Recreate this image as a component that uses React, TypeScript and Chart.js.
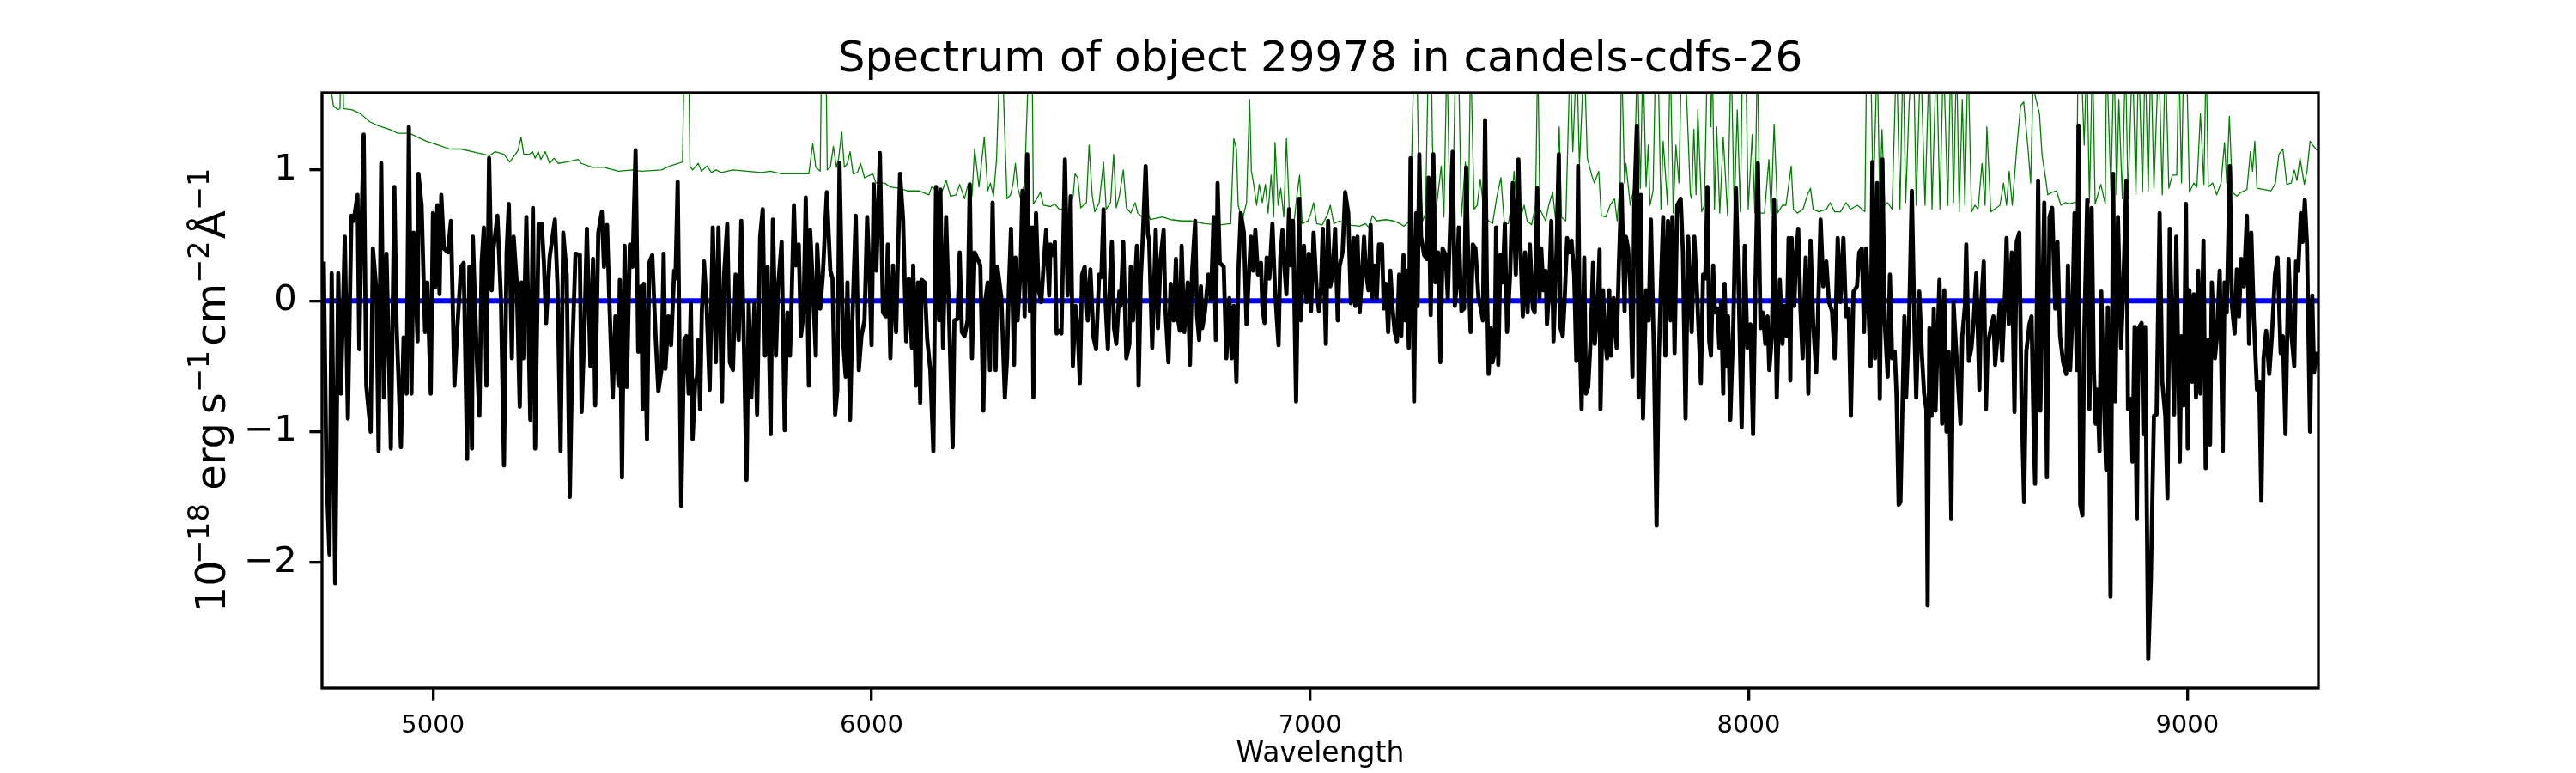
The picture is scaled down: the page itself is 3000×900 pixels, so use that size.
import React, { useEffect, useRef } from "react";
import { Chart, registerables } from "chart.js";

Chart.register(...registerables);

const TITLE = "Spectrum of object 29978 in candels-cdfs-26";
const X_LABEL = "Wavelength";
const X_RANGE = [4747, 9299];
const Y_RANGE = [-2.96, 1.59];
const X_TICKS = [5000, 6000, 7000, 8000, 9000];
const Y_TICKS = [-2, -1, 0, 1];

// y-axis label pieces: [text, isSuperscript, gapBefore (em of main font)]
const Y_LABEL_PARTS: [string, boolean, number][] = [
  ["10", false, 0],
  ["\u221218", true, -0.1],
  ["erg", false, 0.32],
  ["s", false, 0.2],
  ["\u22121", true, 0],
  ["cm", false, 0.1],
  ["\u22122", true, 0],
  ["\u00c5", false, 0.05],
  ["\u22121", true, 0],
];

// Object flux [wavelength, flux]
const FLUX: [number, number][] = [
  [4751, 0.30], [4757, -1.32], [4764, -1.94], [4769, 0.21], [4777, -2.16], [4784, 0.21], [4790, -0.71], [4799, 0.49],
  [4806, -0.90], [4814, 0.65], [4819, 0.61], [4828, 0.81], [4832, -0.37], [4837, 0.55], [4842, 1.27], [4848, -0.65],
  [4858, -1.00], [4863, 0.40], [4871, 0.08], [4876, -1.15], [4882, 1.05], [4888, -0.74], [4894, 0.36], [4904, -1.13],
  [4912, 0.87], [4917, -0.18], [4927, -1.12], [4933, -0.28], [4940, -0.71], [4945, 1.33], [4951, -0.71], [4956, 0.52],
  [4965, -0.31], [4967, 0.97], [4974, 0.73], [4982, -0.24], [4987, 0.14], [4995, -0.71], [5000, 0.67], [5005, 0.10],
  [5010, 0.73], [5015, 0.05], [5019, 0.81], [5025, 0.40], [5034, 0.37], [5041, 0.61], [5049, -0.65], [5055, -0.24],
  [5064, 0.26], [5070, 0.29], [5078, -1.21], [5083, 0.26], [5089, -1.13], [5091, 0.49], [5100, -0.44], [5106, -0.88],
  [5111, 0.29], [5116, 0.56], [5122, -0.65], [5128, 1.09], [5134, 0.08], [5137, 0.37], [5147, 0.65], [5155, 0.02],
  [5162, -1.26], [5168, 0.37], [5173, 0.74], [5180, -0.44], [5184, 0.49], [5191, 0.14], [5198, -0.81], [5202, 0.14],
  [5206, -0.44], [5213, 0.64], [5222, -0.91], [5228, 0.71], [5233, -1.13], [5241, 0.59], [5248, 0.59], [5253, 0.29],
  [5258, -0.17], [5266, 0.33], [5278, 0.62], [5284, 0.11], [5291, -1.15], [5297, 0.52], [5305, 0.20], [5312, -1.50],
  [5318, -0.37], [5325, 0.36], [5335, 0.35], [5339, -0.85], [5346, -0.15], [5351, 0.55], [5359, -0.50], [5365, 0.32],
  [5370, -0.80], [5377, 0.52], [5385, 0.68], [5390, 0.26], [5397, 0.58], [5403, -0.09], [5410, -0.74], [5416, -0.12],
  [5423, -0.65], [5426, 0.16], [5431, -1.35], [5437, 0.42], [5442, -0.66], [5449, 0.43], [5455, 0.26], [5462, 1.15],
  [5468, -0.39], [5475, 0.11], [5478, -0.83], [5481, 0.13], [5488, -1.06], [5493, 0.29], [5500, 0.35], [5508, -0.30],
  [5514, -0.69], [5521, -0.53], [5526, 0.36], [5530, -0.52], [5537, -0.12], [5543, -0.34], [5550, 0.23], [5553, 0.17],
  [5558, 0.91], [5566, -1.57], [5573, -0.30], [5578, -0.27], [5583, -0.71], [5588, -0.02], [5592, -1.06], [5598, -0.62],
  [5602, -0.58], [5605, -0.30], [5609, -0.83], [5613, -0.09], [5618, 0.30], [5624, -0.04], [5631, -0.68], [5638, 0.56],
  [5645, -0.47], [5651, 0.56], [5659, -0.77], [5664, 0.21], [5671, 0.59], [5677, -0.47], [5684, -0.53], [5690, 0.20],
  [5697, -0.30], [5703, 0.61], [5710, -0.49], [5715, -1.37], [5720, -0.01], [5726, -0.74], [5733, -0.02], [5739, -0.87],
  [5746, 0.49], [5752, 0.70], [5757, -0.42], [5763, 0.26], [5770, -1.02], [5775, 0.62], [5782, -0.42], [5787, 0.11],
  [5795, 0.45], [5802, -0.99], [5808, -0.09], [5814, -0.42], [5817, -0.09], [5823, 0.73], [5827, 0.27], [5834, 0.43],
  [5839, -0.27], [5845, -0.09], [5850, 0.79], [5857, -0.65], [5860, 0.54], [5865, 0.20], [5873, -0.42], [5876, 0.43],
  [5883, -0.06], [5889, 0.20], [5898, 0.83], [5906, 0.23], [5911, 0.17], [5917, -0.87], [5922, -0.68], [5927, 1.05],
  [5935, -0.30], [5941, -0.58], [5945, 0.14], [5951, -0.91], [5956, -0.18], [5964, 0.65], [5971, -0.53], [5977, -0.27],
  [5984, -0.15], [5990, 0.64], [5996, 0.14], [6000, -0.34], [6005, 0.89], [6011, 0.23], [6019, 1.13], [6026, -0.09],
  [6033, -0.12], [6037, 0.43], [6043, -0.44], [6049, 0.27], [6056, -0.24], [6065, 0.97], [6072, 0.62], [6079, -0.31],
  [6085, 0.17], [6092, -0.36], [6095, 0.27], [6101, -0.65], [6106, 0.14], [6111, -0.78], [6114, 0.16], [6121, 0.14],
  [6127, -0.30], [6134, -0.53], [6141, -1.15], [6147, 0.87], [6154, -0.15], [6157, 0.85], [6163, -0.36], [6170, 0.64],
  [6176, -0.02], [6185, -1.12], [6189, -0.15], [6196, -0.14], [6201, 0.37], [6206, -0.24], [6212, -0.27], [6219, -0.15],
  [6224, 0.89], [6229, -0.44], [6235, 0.37], [6242, 0.32], [6248, 0.27], [6255, -0.84], [6259, -0.01], [6265, 0.14],
  [6270, -0.53], [6276, 0.75], [6283, -0.53], [6287, 0.26], [6296, 0.02], [6304, -0.74], [6309, -0.44], [6313, 0.08],
  [6318, 0.55], [6325, -0.49], [6328, 0.33], [6333, -0.15], [6340, 0.26], [6344, 0.84], [6349, -0.12], [6355, 1.12],
  [6361, -0.08], [6366, 0.56], [6369, -0.74], [6375, 0.67], [6381, 0.08], [6387, -0.01], [6392, 0.26], [6398, 0.54],
  [6405, 0.04], [6408, 0.43], [6413, 0.35], [6418, 0.45], [6422, -0.25], [6428, -0.23], [6433, -0.25], [6441, 1.08],
  [6447, 0.04], [6454, 0.80], [6459, -0.50], [6465, -0.04], [6470, -0.21], [6475, -0.63], [6480, 0.20], [6486, 0.26],
  [6493, -0.15], [6499, 0.24], [6506, -0.28], [6512, -0.37], [6519, 0.20], [6524, 0.18], [6529, 0.70], [6532, 0.08],
  [6539, -0.37], [6544, 0.20], [6548, 0.45], [6553, -0.21], [6558, -0.33], [6565, 0.07], [6568, -0.04], [6574, 0.45],
  [6581, -0.44], [6588, -0.33], [6591, 0.26], [6596, -0.15], [6601, 0.16], [6605, 0.42], [6609, -0.65], [6614, 0.17],
  [6618, 0.45], [6625, 1.03], [6630, 0.51], [6633, 0.46], [6640, -0.36], [6648, 0.54], [6653, -0.21], [6659, 0.32],
  [6666, 0.54], [6670, -0.06], [6677, -0.47], [6682, 0.13], [6689, -0.15], [6694, 0.32], [6698, -0.12], [6703, -0.23],
  [6707, 0.42], [6713, -0.24], [6721, 0.14], [6726, -0.49], [6731, 0.23], [6738, 0.61], [6742, -0.11], [6747, -0.30],
  [6751, 0.11], [6754, -0.21], [6760, -0.09], [6768, 0.20], [6774, 0.01], [6780, 0.64], [6785, -0.30], [6789, 0.90],
  [6794, 0.29], [6803, 0.26], [6809, -0.44], [6816, 0.02], [6821, -0.44], [6826, -0.04], [6832, -0.62], [6837, 0.27],
  [6842, 0.67], [6849, 0.52], [6855, -0.18], [6860, 0.17], [6865, 0.49], [6870, 0.23], [6875, 0.54], [6881, 0.20],
  [6888, 0.29], [6891, -0.04], [6896, -0.17], [6901, 0.33], [6907, 0.17], [6914, 0.59], [6920, 0.08], [6928, -0.34],
  [6932, 0.33], [6937, 0.54], [6942, 0.23], [6946, 0.05], [6952, 0.70], [6956, 0.27], [6961, 0.61], [6968, -0.77],
  [6975, 0.78], [6979, -0.15], [6986, 0.42], [6992, -0.01], [6997, 0.36], [7002, -0.08], [7008, 0.52], [7015, 0.08],
  [7020, -0.08], [7025, 0.11], [7029, 0.55], [7036, -0.33], [7041, 0.61], [7046, 0.11], [7051, 0.20], [7057, 0.55],
  [7063, -0.15], [7067, 0.26], [7074, 0.37], [7080, 0.83], [7087, 0.67], [7093, -0.02], [7099, 0.48], [7103, -0.04],
  [7108, 0.49], [7113, -0.09], [7118, 0.17], [7123, 0.49], [7127, 0.23], [7133, 0.08], [7138, 0.58], [7142, 0.02],
  [7147, 0.27], [7152, 0.02], [7157, 0.43], [7164, 0.43], [7168, -0.06], [7173, 0.13], [7178, -0.24], [7183, 0.23],
  [7188, -0.06], [7193, -0.24], [7198, -0.31], [7203, 0.20], [7208, -0.27], [7213, 0.35], [7217, -0.15], [7221, 0.23],
  [7225, -0.36], [7229, 1.09], [7234, 0.02], [7237, -0.77], [7242, 0.67], [7245, -0.04], [7249, 1.12], [7253, 0.49],
  [7260, 0.35], [7266, 0.32], [7270, 0.94], [7275, -0.11], [7281, 1.12], [7286, 0.14], [7292, 0.37], [7297, -0.47],
  [7302, 0.40], [7309, 0.35], [7314, 0.02], [7318, 0.43], [7325, 1.14], [7330, -0.04], [7335, 0.14], [7339, 0.56],
  [7345, -0.08], [7351, -0.06], [7356, 1.02], [7361, 0.23], [7366, -0.24], [7371, 0.43], [7377, 0.40], [7384, 0.02],
  [7388, -0.04], [7394, -0.15], [7399, 1.38], [7403, 0.14], [7407, -0.56], [7412, -0.21], [7416, -0.47], [7421, -0.39],
  [7424, 0.56], [7429, -0.49], [7434, 0.35], [7439, 0.14], [7444, 0.59], [7449, -0.24], [7456, 0.20], [7462, 0.90],
  [7469, 0.20], [7475, 1.08], [7480, 0.35], [7485, -0.12], [7490, 0.37], [7496, -0.09], [7501, 0.43], [7508, -0.06],
  [7512, -0.09], [7518, 0.86], [7523, 0.02], [7527, 0.40], [7532, 0.08], [7537, 0.23], [7540, -0.18], [7545, 0.08],
  [7550, 0.61], [7555, -0.31], [7562, 0.40], [7567, 1.12], [7571, -0.21], [7576, -0.27], [7580, -0.02], [7586, 0.48],
  [7591, 0.37], [7596, 0.46], [7602, 0.20], [7607, -0.46], [7611, 1.03], [7615, -0.30], [7619, -0.83], [7625, 0.33],
  [7629, -0.71], [7634, -0.66], [7640, -0.27], [7645, 0.29], [7649, -0.33], [7655, -0.08], [7660, 0.39], [7662, -0.83],
  [7668, 0.08], [7672, -0.27], [7677, -0.44], [7682, 0.08], [7686, -0.42], [7692, 0.02], [7699, -0.36], [7704, 0.27],
  [7710, 0.89], [7717, -0.08], [7720, 0.49], [7725, 0.40], [7730, 0.11], [7735, -0.58], [7739, 0.73], [7745, 1.34],
  [7749, -0.74], [7754, 0.81], [7759, -0.90], [7766, 0.08], [7772, -0.15], [7777, 0.62], [7784, -0.42], [7790, -1.72],
  [7795, -0.44], [7800, 0.13], [7805, 0.64], [7810, -0.42], [7816, 0.61], [7822, -0.15], [7826, 0.64], [7831, -0.40],
  [7837, 0.73], [7845, 0.78], [7850, 0.37], [7856, -0.90], [7862, 0.49], [7870, -0.24], [7876, 0.49], [7882, 0.08],
  [7886, -0.24], [7891, -0.63], [7896, 0.20], [7901, 0.17], [7906, 0.87], [7910, -0.31], [7914, -0.42], [7919, 0.27],
  [7923, -0.09], [7929, -0.06], [7933, -0.36], [7937, -0.01], [7942, -0.71], [7945, 0.13], [7950, -0.50], [7953, -0.12],
  [7958, -0.91], [7965, -0.18], [7971, 0.86], [7978, -0.04], [7984, -0.97], [7991, 0.42], [7997, -0.36], [8004, -0.18],
  [8010, -1.02], [8015, 0.08], [8021, 1.05], [8027, -0.21], [8032, -0.09], [8038, -0.33], [8043, -0.12], [8047, -0.53],
  [8053, -0.27], [8058, 0.77], [8064, -0.74], [8071, 0.16], [8077, -0.33], [8082, -0.04], [8087, -0.27], [8091, 0.48],
  [8095, -0.61], [8098, 0.48], [8104, -0.04], [8108, 0.35], [8113, 0.55], [8118, -0.06], [8123, -0.44], [8130, 0.33],
  [8136, -0.71], [8141, 0.46], [8147, -0.17], [8154, -0.55], [8158, -0.11], [8164, 0.62], [8170, 0.11], [8177, 0.30],
  [8183, -0.01], [8190, -0.08], [8196, -0.44], [8203, 0.48], [8209, -0.01], [8216, 0.48], [8222, -0.12], [8228, -0.06],
  [8233, -0.88], [8239, 0.07], [8247, 0.11], [8252, 0.37], [8258, 0.40], [8263, -0.24], [8268, 0.40], [8273, -0.04],
  [8278, -0.50], [8282, 1.06], [8288, -0.44], [8293, 0.90], [8299, -0.75], [8305, 1.08], [8310, -0.15], [8317, -0.58],
  [8322, 0.20], [8327, -0.44], [8333, -0.39], [8337, -0.71], [8342, -1.56], [8346, -1.54], [8352, -0.59], [8355, -0.12],
  [8359, -0.74], [8366, -0.12], [8372, 0.84], [8378, -0.21], [8382, -0.74], [8389, 0.07], [8395, -0.42], [8400, -0.71],
  [8405, -0.83], [8408, -2.33], [8412, -0.21], [8417, -0.88], [8422, -0.06], [8426, -0.84], [8431, -0.27], [8435, 0.16],
  [8441, -0.94], [8446, 0.08], [8451, -1.00], [8456, -0.39], [8462, -1.67], [8467, -0.01], [8474, -0.44], [8483, -0.94],
  [8487, -0.27], [8493, -0.04], [8496, 0.43], [8502, -0.46], [8508, -0.36], [8513, -0.15], [8519, 0.21], [8526, -0.68],
  [8530, -0.04], [8536, 0.30], [8541, -0.83], [8545, -0.34], [8552, -0.21], [8558, -0.12], [8562, -0.49], [8568, -0.24],
  [8573, -0.01], [8578, -0.46], [8585, 0.11], [8588, 0.48], [8593, -0.18], [8600, 0.37], [8606, -0.85], [8611, 0.45],
  [8617, 0.52], [8622, -0.74], [8628, -1.54], [8633, -0.39], [8640, -0.18], [8645, -0.12], [8650, -1.03], [8653, -1.40],
  [8660, 0.92], [8665, -0.84], [8669, -0.12], [8674, 0.75], [8680, -1.35], [8686, 0.64], [8692, 0.71], [8699, -0.06],
  [8704, 0.45], [8710, -0.27], [8717, -0.47], [8724, -0.56], [8728, 0.27], [8733, -0.53], [8738, -0.12], [8743, 0.67],
  [8748, -0.53], [8752, 1.34], [8756, -1.56], [8761, -1.64], [8765, -0.27], [8772, 0.77], [8777, -0.83], [8782, 0.71],
  [8787, -0.53], [8791, -0.94], [8795, -0.68], [8800, -1.15], [8804, 0.07], [8810, -0.74], [8815, -1.29], [8819, -0.05],
  [8825, -2.26], [8831, 0.97], [8836, -0.77], [8842, 0.64], [8849, -0.36], [8854, 0.08], [8861, 0.92], [8865, -0.83],
  [8872, -0.75], [8875, -1.23], [8880, -0.20], [8885, -1.67], [8889, -0.21], [8896, -0.17], [8900, -1.02], [8904, -0.20],
  [8911, -2.74], [8917, -2.13], [8924, -0.88], [8930, -0.87], [8937, 0.67], [8943, -0.62], [8950, -0.88], [8955, -1.51],
  [8960, 0.55], [8965, -0.15], [8970, -0.87], [8975, 0.49], [8983, -1.23], [8987, -0.27], [8992, -0.80], [8997, 0.74],
  [9001, -1.13], [9005, 0.08], [9011, -0.62], [9015, 0.05], [9020, -0.74], [9025, 0.23], [9030, -0.71], [9037, 0.46],
  [9042, -1.28], [9048, -0.30], [9052, -1.10], [9056, 0.14], [9063, -0.44], [9067, -0.30], [9074, 0.23], [9081, -1.15],
  [9085, 0.14], [9090, -0.09], [9097, 1.03], [9102, -0.04], [9108, -0.25], [9113, 0.24], [9118, -0.12], [9123, 0.32],
  [9129, 0.11], [9136, 0.65], [9141, -0.33], [9146, 0.52], [9152, -0.15], [9159, -0.68], [9164, -0.62], [9169, -1.53],
  [9174, -0.44], [9180, -0.23], [9187, -0.56], [9193, -0.27], [9200, 0.20], [9206, 0.33], [9213, -0.40], [9218, -0.27],
  [9224, -1.02], [9231, 0.32], [9237, -0.24], [9244, -0.50], [9248, 0.30], [9253, 0.23], [9259, 0.67], [9263, 0.45],
  [9268, 0.77], [9273, 0.43], [9280, -1.00], [9285, 0.04], [9289, -0.55], [9296, -0.39],
];

// Noise / error spectrum [wavelength, value]
const NOISE: [number, number][] = [
  [4750, 2.20], [4764, 1.70], [4773, 1.49], [4783, 1.46], [4788, 1.47], [4790, 1.90], [4794, 1.90], [4796, 1.47],
  [4816, 1.46], [4835, 1.43], [4855, 1.37], [4874, 1.34], [4901, 1.31], [4920, 1.28], [4946, 1.28], [4966, 1.25],
  [4985, 1.22], [5012, 1.19], [5038, 1.16], [5064, 1.16], [5090, 1.14], [5116, 1.12], [5129, 1.11], [5142, 1.14],
  [5162, 1.12], [5175, 1.06], [5188, 1.12], [5194, 1.15], [5201, 1.25], [5207, 1.12], [5220, 1.12], [5227, 1.14],
  [5233, 1.09], [5240, 1.14], [5246, 1.08], [5256, 1.14], [5266, 1.05], [5276, 1.09], [5286, 1.05], [5305, 1.06],
  [5331, 1.08], [5338, 1.05], [5364, 1.02], [5390, 1.02], [5423, 0.99], [5455, 1.00], [5475, 0.99], [5521, 1.00],
  [5540, 1.03], [5560, 1.05], [5569, 1.06], [5573, 1.90], [5583, 1.90], [5586, 1.03], [5592, 1.00], [5605, 1.05],
  [5612, 0.99], [5625, 1.03], [5635, 0.98], [5645, 1.00], [5658, 0.98], [5684, 1.00], [5716, 0.99], [5749, 0.98],
  [5769, 0.99], [5795, 0.97], [5834, 0.97], [5857, 0.97], [5866, 1.20], [5873, 1.02], [5883, 0.99], [5886, 1.90],
  [5896, 1.90], [5899, 1.00], [5906, 1.02], [5913, 1.18], [5920, 1.02], [5925, 1.09], [5932, 1.29], [5938, 1.02],
  [5945, 1.05], [5951, 1.14], [5958, 0.97], [5968, 0.98], [5975, 1.05], [5984, 0.94], [6003, 0.97], [6010, 0.90],
  [6030, 0.90], [6043, 0.87], [6062, 0.86], [6082, 0.84], [6108, 0.84], [6131, 0.81], [6137, 0.87], [6147, 0.85],
  [6157, 0.80], [6170, 0.92], [6180, 0.80], [6193, 0.81], [6201, 0.89], [6212, 0.78], [6220, 0.89], [6229, 0.80],
  [6235, 1.16], [6245, 0.87], [6257, 1.25], [6265, 0.84], [6271, 0.90], [6278, 0.80], [6285, 1.08], [6293, 1.90],
  [6298, 1.90], [6304, 1.25], [6309, 0.78], [6317, 0.81], [6323, 0.90], [6328, 1.05], [6333, 0.87], [6340, 0.78],
  [6349, 0.90], [6359, 1.90], [6366, 1.90], [6369, 0.74], [6375, 0.77], [6385, 0.83], [6392, 0.73], [6408, 0.72],
  [6418, 0.74], [6428, 0.70], [6454, 0.70], [6460, 0.81], [6464, 0.97], [6470, 0.94], [6477, 0.71], [6490, 0.75],
  [6496, 1.19], [6503, 0.81], [6509, 0.68], [6519, 0.75], [6529, 1.06], [6535, 0.70], [6545, 0.75], [6552, 1.12],
  [6558, 0.71], [6565, 0.80], [6574, 1.00], [6581, 0.71], [6591, 0.67], [6601, 0.75], [6607, 0.67], [6617, 0.64],
  [6630, 0.67], [6636, 0.62], [6663, 0.64], [6682, 0.62], [6708, 0.61], [6728, 0.61], [6760, 0.59], [6793, 0.58],
  [6819, 0.59], [6826, 1.24], [6832, 1.16], [6836, 0.73], [6845, 0.61], [6855, 0.75], [6862, 1.54], [6866, 0.99],
  [6871, 0.90], [6878, 0.73], [6884, 0.89], [6891, 0.75], [6898, 0.89], [6904, 0.67], [6911, 0.96], [6917, 0.64],
  [6920, 1.21], [6927, 0.73], [6933, 0.86], [6940, 0.64], [6946, 1.24], [6953, 0.65], [6963, 0.59], [6969, 0.78],
  [6976, 0.96], [6982, 0.59], [6995, 0.61], [7002, 0.67], [7008, 0.75], [7015, 0.59], [7028, 0.58], [7041, 0.67],
  [7046, 0.73], [7054, 0.59], [7067, 0.61], [7080, 0.59], [7087, 0.58], [7113, 0.57], [7126, 0.59], [7134, 0.56],
  [7142, 0.65], [7152, 0.61], [7172, 0.62], [7191, 0.61], [7204, 0.59], [7214, 0.57], [7227, 0.61], [7232, 1.14],
  [7237, 1.90], [7243, 1.90], [7247, 1.14], [7257, 0.61], [7263, 0.67], [7270, 1.90], [7276, 1.90], [7279, 1.19],
  [7286, 0.67], [7292, 0.83], [7299, 1.03], [7305, 0.64], [7312, 1.90], [7319, 0.62], [7325, 0.67], [7332, 1.90],
  [7338, 1.90], [7345, 0.64], [7354, 1.06], [7361, 0.64], [7366, 1.90], [7374, 0.70], [7381, 0.73], [7388, 0.93],
  [7397, 0.67], [7407, 0.61], [7416, 0.59], [7426, 0.80], [7435, 0.94], [7443, 0.59], [7452, 0.59], [7459, 0.73],
  [7465, 0.99], [7475, 0.58], [7488, 0.73], [7495, 0.61], [7505, 0.58], [7514, 0.73], [7519, 1.90], [7524, 0.70],
  [7537, 0.61], [7544, 0.73], [7553, 0.83], [7560, 0.61], [7568, 1.33], [7573, 0.64], [7583, 0.61], [7593, 1.90],
  [7599, 1.14], [7608, 1.90], [7614, 1.03], [7625, 1.90], [7632, 1.09], [7642, 0.96], [7648, 0.90], [7658, 0.99],
  [7664, 0.65], [7674, 0.64], [7684, 0.73], [7694, 0.78], [7700, 0.61], [7707, 0.90], [7710, 1.90], [7717, 0.90],
  [7720, 1.05], [7730, 0.73], [7739, 0.87], [7746, 1.90], [7753, 0.86], [7759, 1.90], [7766, 0.87], [7771, 1.19],
  [7775, 0.73], [7782, 0.84], [7788, 1.90], [7793, 1.90], [7800, 0.70], [7805, 1.22], [7815, 0.73], [7821, 1.90],
  [7828, 0.67], [7834, 1.19], [7841, 0.90], [7847, 1.90], [7854, 1.90], [7860, 1.43], [7867, 0.81], [7870, 0.78],
  [7875, 1.31], [7880, 0.81], [7884, 1.46], [7893, 0.68], [7899, 0.73], [7906, 1.90], [7910, 1.90], [7914, 1.33],
  [7917, 1.90], [7922, 0.70], [7927, 1.33], [7934, 0.67], [7942, 1.25], [7952, 0.65], [7960, 1.90], [7967, 0.68],
  [7974, 1.46], [7981, 0.68], [7986, 1.90], [7993, 1.90], [7999, 0.70], [8008, 1.27], [8014, 0.67], [8020, 1.90],
  [8025, 0.67], [8036, 0.67], [8046, 1.08], [8051, 0.67], [8058, 1.35], [8066, 0.67], [8077, 0.73], [8085, 0.73],
  [8097, 1.03], [8102, 0.70], [8111, 0.67], [8124, 0.70], [8134, 0.81], [8141, 0.86], [8147, 0.70], [8160, 0.68],
  [8177, 0.70], [8186, 0.75], [8196, 0.68], [8209, 0.68], [8222, 0.75], [8232, 0.70], [8248, 0.73], [8265, 0.68],
  [8269, 1.90], [8278, 1.90], [8284, 0.73], [8293, 1.90], [8299, 0.73], [8304, 1.31], [8310, 0.73], [8317, 0.75],
  [8327, 0.70], [8337, 1.90], [8345, 0.70], [8352, 1.90], [8358, 0.75], [8366, 1.52], [8376, 1.90], [8382, 0.73],
  [8392, 1.90], [8402, 0.73], [8412, 1.90], [8418, 0.70], [8428, 1.90], [8436, 0.70], [8444, 1.90], [8454, 0.73],
  [8461, 1.90], [8467, 0.75], [8474, 1.90], [8480, 0.68], [8487, 1.54], [8493, 0.73], [8500, 1.90], [8508, 0.68],
  [8516, 0.73], [8523, 0.70], [8532, 1.05], [8539, 0.73], [8543, 1.33], [8552, 0.68], [8565, 0.71], [8573, 0.73],
  [8581, 0.90], [8588, 0.73], [8594, 0.99], [8601, 0.73], [8611, 1.16], [8620, 1.49], [8627, 1.52], [8637, 1.16],
  [8643, 0.90], [8650, 1.90], [8653, 1.57], [8663, 1.43], [8669, 1.11], [8676, 0.96], [8682, 0.81], [8692, 0.83],
  [8702, 0.84], [8712, 0.73], [8722, 0.75], [8731, 0.74], [8741, 0.75], [8748, 0.75], [8751, 1.90], [8761, 1.57],
  [8765, 1.19], [8771, 1.90], [8777, 0.75], [8784, 1.90], [8790, 0.74], [8803, 0.89], [8813, 0.74], [8816, 1.90],
  [8826, 0.84], [8833, 1.90], [8839, 0.81], [8844, 1.54], [8852, 0.78], [8859, 1.90], [8865, 0.78], [8875, 1.90],
  [8883, 0.81], [8889, 1.90], [8898, 0.83], [8904, 1.90], [8911, 0.84], [8917, 1.90], [8924, 0.86], [8935, 1.90],
  [8943, 0.81], [8950, 1.90], [8958, 0.86], [8966, 0.96], [8976, 0.96], [8981, 1.90], [8987, 0.90], [8992, 1.90],
  [8998, 1.90], [9005, 0.83], [9015, 0.90], [9022, 0.87], [9030, 1.43], [9038, 0.89], [9043, 1.90], [9048, 0.87],
  [9058, 0.90], [9067, 0.81], [9077, 0.90], [9085, 1.21], [9090, 0.90], [9096, 1.41], [9103, 0.83], [9113, 0.80],
  [9123, 0.83], [9136, 0.85], [9144, 1.14], [9149, 0.99], [9154, 1.22], [9159, 0.86], [9175, 0.85], [9191, 0.84],
  [9201, 0.90], [9209, 1.12], [9218, 1.16], [9227, 0.89], [9237, 0.90], [9244, 1.00], [9250, 0.92], [9257, 1.09],
  [9267, 0.89], [9273, 0.99], [9280, 1.22], [9286, 1.19], [9296, 1.15],
];

// Zero level [wavelength, value]
const ZERO_LEVEL: [number, number][] = [
  [4747, 0], [9299, 0],
];

const FONT = "'DejaVu Sans', 'Liberation Sans', sans-serif";

const toPoints = (arr: [number, number][]) => arr.map(([x, y]) => ({ x, y }));

export default function App() {
  const ref = useRef<HTMLCanvasElement>(null);

  useEffect(() => {
    document.body.style.margin = "0";
    const canvas = ref.current;
    if (!canvas) return;

    const decorPlugin = {
      id: "mplDecor",
      afterDatasetsDraw(chart: any) {
        const { ctx, chartArea: a } = chart;
        ctx.save();
        ctx.strokeStyle = "#000";
        ctx.lineWidth = 3.33;
        ctx.strokeRect(a.left, a.top, a.right - a.left, a.bottom - a.top);
        ctx.restore();
      },
      afterDraw(chart: any) {
        const { ctx, chartArea: a } = chart;
        const cx = (a.left + a.right) / 2;
        const cy = (a.top + a.bottom) / 2;
        ctx.save();
        ctx.fillStyle = "#000";
        ctx.textBaseline = "alphabetic";
        ctx.textAlign = "center";
        ctx.font = `50px ${FONT}`;
        ctx.fillText(TITLE, cx, a.top - 25);
        ctx.font = `33px ${FONT}`;
        ctx.fillText(X_LABEL, cx, a.bottom + 86);

        // rotated y label with superscripts
        const mainSize = 48;
        const supSize = 33.6;
        const raise = 19.5;
        ctx.textAlign = "left";
        let total = 0;
        const widths: number[] = [];
        for (const [txt, sup, gap] of Y_LABEL_PARTS) {
          ctx.font = `${sup ? supSize : mainSize}px ${FONT}`;
          const w = ctx.measureText(txt).width;
          widths.push(w);
          total += w + gap * mainSize;
        }
        ctx.translate(262, cy);
        ctx.rotate(-Math.PI / 2);
        let pos = -total / 2;
        Y_LABEL_PARTS.forEach(([txt, sup, gap], i) => {
          pos += gap * mainSize;
          ctx.font = `${sup ? supSize : mainSize}px ${FONT}`;
          ctx.fillText(txt, pos, sup ? -raise : 0);
          pos += widths[i];
        });
        ctx.restore();
      },
    };

    const tickGrid = {
      drawOnChartArea: false,
      drawTicks: true,
      tickLength: 14.6,
      tickWidth: 3.33,
      tickColor: "#000",
      color: "#000",
      lineWidth: 3.33,
    };

    const chart = new Chart(canvas, {
      type: "line",
      data: {
        datasets: [
          {
            data: toPoints(FLUX),
            borderColor: "#000000",
            borderWidth: 4.8,
            borderJoinStyle: "round",
            pointRadius: 0,
            tension: 0,
            fill: false,
            order: 0,
            clip: 0,
          },
          {
            data: toPoints(NOISE),
            borderColor: "#008000",
            borderWidth: 1.3,
            borderJoinStyle: "round",
            pointRadius: 0,
            tension: 0,
            fill: false,
            order: 1,
            clip: 0,
          },
          {
            data: toPoints(ZERO_LEVEL),
            borderColor: "#0000ff",
            borderWidth: 6,
            pointRadius: 0,
            tension: 0,
            fill: false,
            order: 2,
            clip: 0,
          },
        ],
      } as any,
      options: {
        animation: false,
        responsive: false,
        devicePixelRatio: 1,
        events: [],
        layout: { padding: { top: 108, right: 300, left: 0, bottom: 0 } },
        plugins: {
          legend: { display: false },
          tooltip: { enabled: false },
          title: { display: false },
        },
        scales: {
          x: {
            type: "linear",
            min: X_RANGE[0],
            max: X_RANGE[1],
            afterBuildTicks: (s: any) => {
              s.ticks = X_TICKS.map((v) => ({ value: v }));
            },
            afterFit: (s: any) => {
              s.height = 99;
            },
            grid: tickGrid,
            border: { display: false },
            ticks: {
              color: "#000",
              font: { family: FONT, size: 29 },
              padding: 12,
              maxRotation: 0,
              autoSkip: false,
              callback: (v: any) => String(v),
            },
          },
          y: {
            type: "linear",
            min: Y_RANGE[0],
            max: Y_RANGE[1],
            afterBuildTicks: (s: any) => {
              s.ticks = Y_TICKS.map((v) => ({ value: v }));
            },
            afterFit: (s: any) => {
              s.width = 375;
            },
            grid: tickGrid,
            border: { display: false },
            ticks: {
              color: "#000",
              font: { family: FONT, size: 41.7 },
              padding: 14.6,
              autoSkip: false,
              callback: (v: any) => (v < 0 ? "\u2212" + Math.abs(v) : String(v)),
            },
          },
        },
      } as any,
      plugins: [decorPlugin],
    });

    return () => chart.destroy();
  }, []);

  return (
    <div style={{ width: 3000, height: 900, background: "#fff" }}>
      <canvas ref={ref} width={3000} height={900} style={{ display: "block", width: 3000, height: 900 }} />
    </div>
  );
}
